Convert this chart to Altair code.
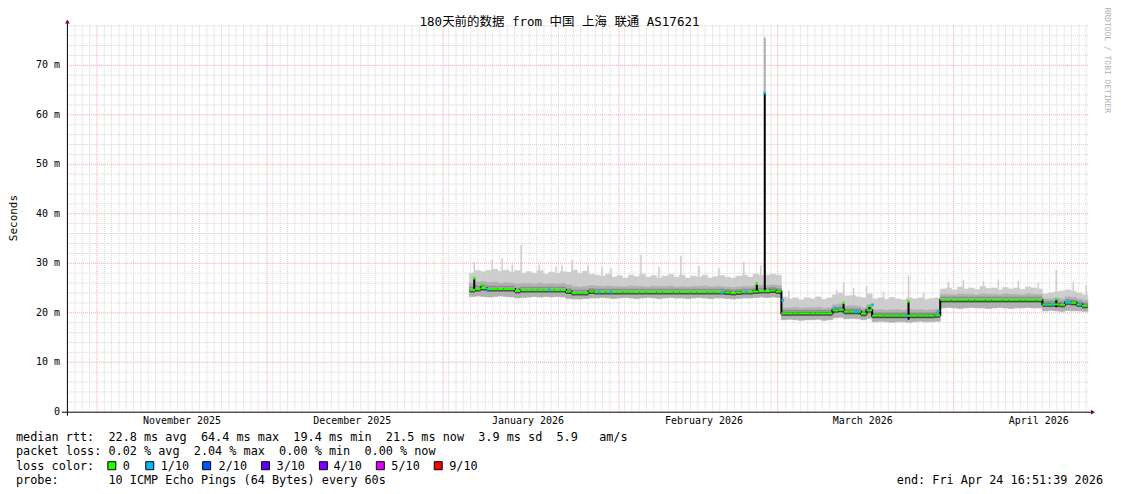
import altair as alt
import pandas as pd

MONO = "DejaVu Sans Mono"
TITLE_FONT = "DejaVu Sans Mono, Noto Sans CJK SC"

# ---------------- data ----------------
START = "2025-10-26T16:51:39"
END = "2026-04-24T16:51:39"
FIRST_SAMPLE = "2026-01-05T15:36:00"   # one smoke column per day from here

median_ms = [
    24.6, 24.8, 25.0, 24.8, 24.8, 24.8, 24.8, 24.8, 24.4, 24.6,
    24.6, 24.6, 24.6, 24.6, 24.6, 24.6, 24.6, 24.3, 24.0, 24.0,
    24.0, 24.3, 24.2, 24.2, 24.2, 24.2, 24.2, 24.2, 24.2, 24.2,
    24.2, 24.2, 24.2, 24.2, 24.2, 24.2, 24.2, 24.2, 24.2, 24.2,
    24.2, 24.2, 24.2, 24.2, 24.2, 24.1, 24.0, 24.1, 24.2, 24.2,
    24.3, 24.4, 24.4, 24.5, 24.3, 19.9, 19.9, 19.9, 19.9, 19.9,
    19.9, 19.9, 19.9, 19.9, 20.5, 20.6, 20.2, 20.2, 20.2, 19.8,
    20.5, 19.4, 19.4, 19.4, 19.4, 19.4, 19.4, 19.4, 19.4, 19.4,
    19.4, 19.4, 19.5, 22.6, 22.6, 22.6, 22.6, 22.6, 22.6, 22.6,
    22.6, 22.6, 22.6, 22.6, 22.6, 22.6, 22.6, 22.6, 22.6, 22.6,
    22.6, 21.7, 21.7, 21.7, 21.6, 22.1, 22.0, 21.7, 21.4,
]
top_ms = [
    28.0, 28.5, 28.3, 28.6, 28.8, 28.4, 28.6, 28.2, 28.5, 28.0,
    28.3, 28.0, 28.5, 27.8, 28.2, 28.0, 28.3, 28.2, 28.6, 28.0,
    28.4, 27.8, 27.6, 27.4, 27.8, 27.2, 27.5, 27.0, 27.6, 27.3,
    27.8, 27.2, 27.5, 27.0, 27.4, 27.7, 27.2, 27.6, 27.0, 27.4,
    27.2, 27.6, 27.0, 27.3, 27.5, 27.2, 27.0, 27.4, 27.6, 27.2,
    27.8, 27.5, 27.6, 27.8, 27.6, 23.2, 22.8, 23.0, 22.6, 23.0,
    22.8, 23.2, 22.7, 23.0, 23.6, 24.0, 23.4, 23.5, 23.2, 23.0,
    23.8, 22.8, 23.0, 22.7, 23.1, 22.8, 22.6, 23.0, 22.8, 23.0,
    22.7, 22.9, 23.0, 24.8, 25.0, 24.6, 25.2, 24.8, 25.0, 24.7,
    25.3, 24.9, 25.0, 24.6, 25.1, 24.8, 25.0, 24.7, 25.2, 25.0,
    24.8, 23.8, 24.0, 24.2, 24.4, 24.6, 24.3, 24.0, 23.6,
]
up_ms = [
    26.0, 26.2, 26.3, 26.1, 26.2, 26.0, 26.1, 26.0, 25.8, 25.9,
    25.9, 25.8, 26.0, 25.8, 25.9, 25.8, 25.9, 25.6, 25.3, 25.2,
    25.3, 25.5, 25.4, 25.3, 25.4, 25.3, 25.3, 25.2, 25.4, 25.3,
    25.3, 25.2, 25.4, 25.3, 25.3, 25.4, 25.2, 25.3, 25.2, 25.3,
    25.3, 25.4, 25.2, 25.3, 25.3, 25.2, 25.1, 25.2, 25.3, 25.3,
    25.5, 25.6, 25.5, 25.6, 25.5, 21.0, 21.0, 21.1, 20.9, 21.0,
    21.0, 21.1, 20.9, 21.0, 21.6, 21.8, 21.3, 21.4, 21.3, 21.0,
    21.6, 20.6, 20.6, 20.5, 20.6, 20.6, 20.5, 20.7, 20.6, 20.6,
    20.5, 20.6, 20.7, 23.7, 23.7, 23.6, 23.8, 23.7, 23.7, 23.6,
    23.8, 23.7, 23.7, 23.6, 23.8, 23.7, 23.7, 23.6, 23.8, 23.7,
    23.7, 22.8, 22.8, 22.9, 22.8, 23.2, 23.1, 22.8, 22.5,
]
lo_ms = [
    23.3, 23.4, 23.3, 23.2, 23.3, 23.4, 23.3, 23.2, 23.0, 23.1,
    23.2, 23.3, 23.2, 23.3, 23.2, 23.3, 23.2, 22.9, 22.8, 22.8,
    22.9, 23.0, 23.0, 23.1, 23.0, 22.9, 23.0, 23.1, 23.0, 22.9,
    23.0, 23.1, 23.0, 22.9, 23.0, 23.1, 23.0, 23.0, 22.9, 23.0,
    23.1, 23.0, 22.9, 23.0, 23.0, 22.9, 22.8, 22.9, 23.0, 23.0,
    23.1, 23.2, 23.1, 23.2, 23.1, 18.6, 18.7, 18.6, 18.5, 18.6,
    18.6, 18.7, 18.5, 18.6, 19.0, 19.1, 18.8, 18.9, 18.8, 18.6,
    18.9, 18.2, 18.3, 18.2, 18.1, 18.2, 18.2, 18.1, 18.2, 18.3,
    18.2, 18.2, 18.3, 21.0, 21.1, 21.0, 20.9, 21.0, 21.1, 21.0,
    21.0, 20.9, 21.0, 21.1, 21.0, 20.9, 21.0, 21.0, 21.1, 21.0,
    21.0, 20.4, 20.5, 20.4, 20.3, 20.5, 20.4, 20.4, 20.3,
]

# thin smoke spikes (highest ping) drawn as hairlines
spike_time = [
    "2026-01-06T12:15", "2026-01-09T16:20", "2026-01-11T10:30", "2026-01-13T04:50",
    "2026-01-14T18:40", "2026-01-17T22:40", "2026-01-20T22:30", "2026-01-21T23:50",
    "2026-01-23T18:00", "2026-01-26T13:40", "2026-01-29T00:45", "2026-01-30T14:50",
    "2026-02-04T21:40", "2026-02-08T01:40", "2026-02-11T22:30", "2026-02-15T02:30",
    "2026-02-18T15:00", "2026-02-23T00:30", "2026-02-26T00:15", "2026-03-02T22:30",
    "2026-03-11T09:10", "2026-03-12T14:40", "2026-03-14T09:00", "2026-03-16T15:50",
    "2026-03-19T15:50", "2026-03-24T01:30", "2026-03-26T16:50", "2026-03-31T02:30",
    "2026-04-02T17:45", "2026-04-06T06:15", "2026-04-08T21:20", "2026-04-12T09:50",
    "2026-04-15T22:20", "2026-04-19T02:30", "2026-04-22T02:10", "2026-04-24T09:10",
]
spike_hi = [
    30.3, 30.7, 31.0, 29.7, 33.7, 29.7, 29.4, 29.6, 30.7, 29.7, 29.3, 29.0,
    31.7, 29.3, 31.5, 29.5, 29.0, 30.3, 29.6, 24.5, 24.6, 26.0, 25.0, 25.3,
    24.2, 27.6, 24.0, 26.2, 26.6, 26.4, 26.6, 26.4, 26.0, 28.6, 26.2, 25.6,
]
spike_lo = [
    26.0, 26.0, 26.0, 26.0, 26.0, 26.0, 26.0, 26.0, 26.0, 26.0, 26.0, 26.0,
    26.0, 26.0, 26.0, 26.0, 26.0, 26.0, 26.0, 21.5, 21.5, 21.5, 21.5, 21.5,
    21.5, 21.5, 21.5, 24.0, 24.0, 24.0, 24.0, 24.0, 24.0, 23.0, 23.0, 23.0,
]

# the big outlier column
peak_time = "2026-02-26T17:15"
peak_median = 64.4
peak_smoke = 75.6

# short median excursions (vertical black strokes)
mspike_time = ["2026-01-06T12:15", "2026-01-07T17:45", "2026-02-25T07:30", "2026-02-26T17:15",
               "2026-03-12T14:40", "2026-03-17T04:30", "2026-03-24T01:30", "2026-04-19T02:30"]
mspike_lo = [24.7, 24.9, 24.3, 24.4, 20.5, 20.4, 18.6, 21.1]
mspike_hi = [27.0, 25.6, 25.9, 64.4, 22.0, 21.4, 22.3, 22.8]
mspike_loss = ["0", "0", "0", "1/10", "0", "0", "0", "0"]

# short stretches with 1/10 packet loss
loss1_time = ["2026-01-08T19:10", "2026-01-19T17:00", "2026-01-28T12:00", "2026-01-30T14:40",
              "2026-02-19T03:40", "2026-02-23T09:00", "2026-03-01T21:10", "2026-03-11T05:00",
              "2026-03-14T17:00", "2026-03-15T01:40", "2026-03-17T17:00", "2026-03-23T16:20",
              "2026-03-29T07:10", "2026-04-17T07:10", "2026-04-18T12:00", "2026-04-20T19:10",
              "2026-04-21T12:00", "2026-04-23T09:40"]
loss1_ms = [24.8, 24.6, 24.2, 24.2, 24.1, 24.2, 22.5, 21.0, 20.3, 20.3, 21.6, 19.4,
            20.3, 21.7, 21.7, 22.1, 22.1, 21.7]

loss_labels = ["0", "1/10", "2/10", "3/10", "4/10", "5/10", "9/10"]
loss_colors = ["#26ff00", "#00b8ff", "#0059ff", "#5e00ff", "#7e00ff", "#dd00ff", "#ff0000"]

y_ticks = [0, 10, 20, 30, 40, 50, 60, 70]
y_tick_labels = ["0\u00a0\u00a0", "10 m", "20 m", "30 m", "40 m", "50 m", "60 m", "70 m"]
y_minor = [2, 4, 6, 8, 12, 14, 16, 18, 22, 24, 26, 28, 32, 34, 36, 38, 42, 44, 46, 48,
           52, 54, 56, 58, 62, 64, 66, 68, 72, 74, 76, 78]
month_starts = ["2025-11-01", "2025-12-01", "2026-01-01", "2026-02-01", "2026-03-01", "2026-04-01"]
month_label_at = ["2025-11-16", "2025-12-16", "2026-01-16", "2026-02-16", "2026-03-16", "2026-04-16"]
month_labels = ["November 2025", "December 2025", "January 2026", "February 2026",
                "March 2026", "April 2026"]

title_text = "180天前的数据 from 中国 上海 联通 AS17621"
line1 = "median rtt:  22.8 ms avg  64.4 ms max  19.4 ms min  21.5 ms now  3.9 ms sd  5.9   am/s"
line2 = "packet loss: 0.02 % avg  2.04 % max  0.00 % min  0.00 % now"
line3 = "loss color:"
line4 = "probe:       10 ICMP Echo Pings (64 Bytes) every 60s"
end_text = "end: Fri Apr 24 16:51:39 2026"
side_text = "RRDTOOL / TOBI OETIKER"


# ---------------- helpers ----------------
def ms(s):
    return int(pd.Timestamp(s, tz="UTC").value // 1_000_000)


def nb(s):
    return s.replace(" ", "\u00a0")


W, H = 1023, 387
LEG_FS = 11.85
xsc = alt.Scale(type="utc", domain=[ms(START), ms(END)], nice=False)
ysc = alt.Scale(domain=[0, 78.07], nice=False, zero=False)

starts = pd.date_range(pd.Timestamp(FIRST_SAMPLE, tz="UTC"), periods=len(median_ms), freq="D")
t0 = [int(t.value // 1_000_000) for t in starts]
t1 = [v + 86_400_000 for v in t0]
samples = pd.DataFrame({"t0": t0, "t1": t1, "med": median_ms, "top": top_ms,
                        "up": up_ms, "lo": lo_ms})
step_pts = pd.DataFrame({"t": t0 + [t1[-1]], "med": median_ms + [median_ms[-1]]})

spikes = pd.DataFrame({"t": [ms(s) for s in spike_time], "hi": spike_hi, "lo": spike_lo})
peak = pd.DataFrame({"t": [ms(peak_time)], "lo": [peak_median], "hi": [peak_smoke]})
mspikes = pd.DataFrame({"t": [ms(s) for s in mspike_time], "lo": mspike_lo,
                        "hi": mspike_hi, "loss": mspike_loss})
loss1 = pd.DataFrame({"t": [ms(s) for s in loss1_time], "v": loss1_ms})

grid_minor_y = pd.DataFrame({"v": y_minor})
grid_major_y = pd.DataFrame({"v": y_ticks[1:]})
major_ms = [ms(s) for s in month_starts]
grid_major_x = pd.DataFrame({"t": major_ms})
minor_x = pd.date_range(pd.Timestamp("2025-11-01", tz="UTC") - pd.Timedelta(hours=31 * 5),
                        pd.Timestamp(END, tz="UTC"), freq="31h")
minor_ms = [int(t.value // 1_000_000) for t in minor_x if t >= pd.Timestamp(START, tz="UTC")]
minor_ms = [m for m in minor_ms if min(abs(m - j) for j in major_ms) > 16 * 3_600_000]
grid_minor_x = pd.DataFrame({"t": minor_ms})
ylab = pd.DataFrame({"v": y_ticks, "lab": y_tick_labels})
xlab = pd.DataFrame({"t": [ms(s) for s in month_label_at], "lab": month_labels})

loss_scale = alt.Scale(domain=loss_labels, range=loss_colors)


def X(f):
    return alt.X(f, type="temporal", scale=xsc, axis=None)


def Y(f):
    return alt.Y(f, type="quantitative", scale=ysc, axis=None)


layers = []

# grid
dash = dict(strokeWidth=1, strokeDash=[1, 1])
layers.append(alt.Chart(grid_minor_x).mark_rule(color="#d4d4d4", **dash).encode(x=X("t")))
layers.append(alt.Chart(grid_minor_y).mark_rule(color="#d4d4d4", **dash).encode(y=Y("v")))
layers.append(alt.Chart(grid_major_x).mark_rule(color="#f3a5a5", **dash).encode(x=X("t")))
layers.append(alt.Chart(grid_major_y).mark_rule(color="#f3a5a5", **dash).encode(y=Y("v")))

# smoke
layers.append(alt.Chart(samples).mark_rect(color="#cdcdcd", stroke="#cdcdcd", strokeWidth=0.6)
              .encode(x=X("t0"), x2="t1", y=Y("lo"), y2="top"))
layers.append(alt.Chart(spikes).mark_rule(color="#cdcdcd", strokeWidth=1.5)
              .encode(x=X("t"), y=Y("hi"), y2="lo"))
layers.append(alt.Chart(peak).mark_rule(color="#adadad", strokeWidth=2)
              .encode(x=X("t"), y=Y("hi"), y2="lo"))
layers.append(alt.Chart(samples).mark_rect(color="#b1b1b1", stroke="#b1b1b1", strokeWidth=0.6)
              .encode(x=X("t0"), x2="t1", y=Y("lo"), y2="up"))
layers.append(alt.Chart(samples).mark_rule(color="#8c8c8c", strokeWidth=1.6, yOffset=-2.4)
              .encode(x=X("t0"), x2="t1", y=Y("med")))
layers.append(alt.Chart(samples).mark_rule(color="#474747", strokeWidth=1.4, yOffset=1.8)
              .encode(x=X("t0"), x2="t1", y=Y("med")))

# median
layers.append(alt.Chart(step_pts).mark_line(color="#000000", strokeWidth=2, interpolate="step-after")
              .encode(x=X("t"), y=Y("med")))
layers.append(alt.Chart(mspikes).mark_rule(color="#000000", strokeWidth=2)
              .encode(x=X("t"), y=Y("lo"), y2="hi"))
layers.append(alt.Chart(samples).mark_rule(color=loss_colors[0], strokeWidth=2)
              .encode(x=X("t0"), x2="t1", y=Y("med")))
layers.append(alt.Chart(mspikes).mark_square(size=7, opacity=1)
              .encode(x=X("t"), y=Y("hi"),
                      color=alt.Color("loss:N", scale=loss_scale, legend=None)))
layers.append(alt.Chart(loss1).mark_square(size=7, opacity=1, color=loss_colors[1])
              .encode(x=X("t"), y=Y("v")))

# axis tick labels (through the scales)
layers.append(alt.Chart(ylab).mark_text(align="right", baseline="middle", font=MONO,
                                        fontSize=10, color="#000000")
              .encode(x=alt.value(-7), y=Y("v"), text="lab:N"))
layers.append(alt.Chart(xlab).mark_text(align="center", baseline="middle", font=MONO,
                                        fontSize=10, color="#000000")
              .encode(x=X("t"), y=alt.value(396.5), text="lab:N"))

# axes lines and arrows (pixel positions relative to plot origin)
one = pd.DataFrame({"k": [0]})
layers.append(alt.Chart(one).mark_rule(color="#000000", strokeWidth=1)
              .encode(x=alt.value(0.5), y=alt.value(-3), y2=alt.value(391)))
layers.append(alt.Chart(one).mark_rule(color="#000000", strokeWidth=1)
              .encode(x=alt.value(-5), x2=alt.value(1027), y=alt.value(387.5)))
layers.append(alt.Chart(one).mark_point(shape="triangle-up", filled=True, color="#7b1111",
                                        size=22, opacity=1)
              .encode(x=alt.value(0.5), y=alt.value(-4)))
layers.append(alt.Chart(one).mark_point(shape="triangle-right", filled=True, color="#7b1111",
                                        size=22, opacity=1)
              .encode(x=alt.value(1028), y=alt.value(387.5)))


def text_at(s, x, y, size=LEG_FS, align="left", angle=0, color="#000000", font=MONO):
    return (alt.Chart(pd.DataFrame({"t": [s]}))
            .mark_text(align=align, baseline="middle", fontSize=size, font=font,
                       color=color, angle=angle)
            .encode(x=alt.value(x), y=alt.value(y), text="t:N"))


LY = [412.5, 426.8, 441.1, 455.4]
layers.append(text_at(title_text, 493.5, -3.3, size=12.5, align="center", font=TITLE_FONT))
layers.append(text_at("Seconds", -52.5, 193, size=11, align="center", angle=270))
layers.append(text_at(side_text, 1041.5, 35, size=8, align="center", angle=90, color="#b0b0b0"))
layers.append(text_at(nb(line1), -51, LY[0]))
layers.append(text_at(nb(line2), -51, LY[1]))
layers.append(text_at(nb(line3), -51, LY[2]))
layers.append(text_at(nb(line4), -51, LY[3]))
layers.append(text_at(nb(end_text), 1038, LY[3], align="right"))

# loss colour legend
box_x = [41, 79, 136, 195, 253, 310, 368]
lab_x = [56, 94, 152, 210, 267, 325, 383]
legend = pd.DataFrame({"lab": loss_labels, "col": loss_colors, "bx": box_x,
                       "bx2": [v + 8 for v in box_x], "lx": lab_x})
layers.append(alt.Chart(legend).mark_rect(stroke="#000000", strokeWidth=1)
              .encode(x=alt.X("bx:Q", scale=None), x2="bx2:Q",
                      y=alt.value(LY[2] - 4), y2=alt.value(LY[2] + 4),
                      fill=alt.Color("col:N", scale=None)))
layers.append(alt.Chart(legend).mark_text(align="left", baseline="middle", fontSize=LEG_FS,
                                          font=MONO, color="#000000")
              .encode(x=alt.X("lx:Q", scale=None), y=alt.value(LY[2]), text="lab:N"))

chart = (alt.layer(*layers)
         .properties(width=W, height=H, autosize=alt.AutoSizeParams(type="none"),
                     padding={"left": 59, "top": 17, "right": 25, "bottom": 82},
                     background="#ffffff")
         .configure_view(stroke=None))

chart.save("out.html", embed_options={"renderer": "svg", "actions": False})
